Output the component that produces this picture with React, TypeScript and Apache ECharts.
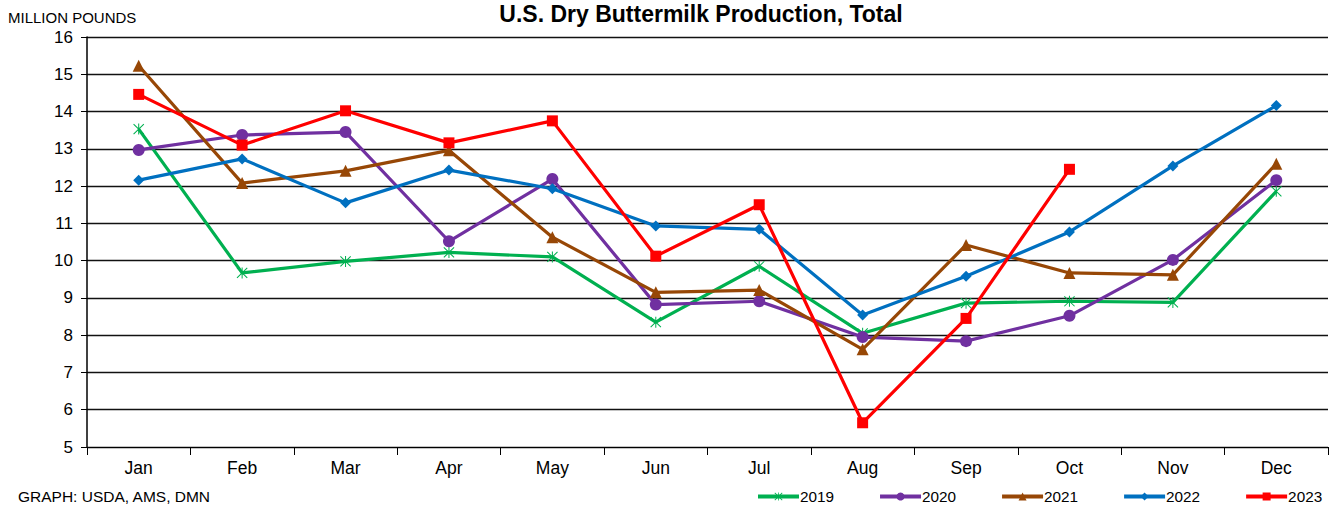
import React, { useEffect, useRef } from "react";
import * as echarts from "echarts";

const months = ["Jan", "Feb", "Mar", "Apr", "May", "Jun", "Jul", "Aug", "Sep", "Oct", "Nov", "Dec"];
const yTicks = { min: 5, max: 16, interval: 1 };

const s2019 = [13.53, 9.67, 9.98, 10.22, 10.1, 8.35, 9.85, 8.05, 8.86, 8.91, 8.88, 11.86];
const s2020 = [12.97, 13.37, 13.45, 10.52, 12.19, 8.82, 8.91, 7.95, 7.84, 8.52, 10.02, 12.16];
const s2021 = [15.23, 12.08, 12.41, 12.96, 10.63, 9.15, 9.21, 7.62, 10.42, 9.67, 9.62, 12.6];
const s2022 = [12.16, 12.73, 11.55, 12.43, 11.93, 10.93, 10.84, 8.54, 9.58, 10.77, 12.54, 14.16];
const s2023 = [14.46, 13.1, 14.02, 13.16, 13.75, 10.12, 11.5, 5.65, 8.45, 12.45, null, null];

const asterisk =
  "path://M9.1 0H10.9V20H9.1Z M0.3 1.6L1.6 0.3L19.7 18.4L18.4 19.7Z M18.4 0.3L19.7 1.6L1.6 19.7L0.3 18.4Z";

export default function App() {
  const ref = useRef<HTMLDivElement>(null);
  useEffect(() => {
    document.body.style.margin = "0";
    const chart = echarts.init(ref.current!, undefined, { renderer: "svg" });
    const font = "'Liberation Sans', Arial, sans-serif";
    const mk = (name: string, data: (number | null)[], color: string, symbol: string, size: number) => ({
      name,
      type: "line",
      data,
      symbol,
      symbolSize: size,
      showSymbol: true,
      lineStyle: { color, width: 3.2 },
      itemStyle: { color },
      z: 3,
    });
    chart.setOption({
      animation: false,
      textStyle: { fontFamily: font },
      grid: { left: 87, right: 4, top: 37, bottom: 61, containLabel: false },
      xAxis: {
        type: "category",
        data: months,
        boundaryGap: true,
        axisLine: { lineStyle: { color: "#000", width: 1 } },
        axisTick: { show: true, length: 8, inside: false, lineStyle: { color: "#000" } },
        axisLabel: { color: "#000", fontSize: 17.5, margin: 12, fontFamily: font },
        splitLine: { show: false },
      },
      yAxis: {
        type: "value",
        min: yTicks.min,
        max: yTicks.max,
        interval: yTicks.interval,
        axisLine: { show: true, lineStyle: { color: "#000", width: 1.5 } },
        axisTick: { show: true, length: 6, lineStyle: { color: "#000" } },
        axisLabel: { color: "#000", fontSize: 17, margin: 14, fontFamily: font },
        splitLine: { show: true, lineStyle: { color: "#111", width: 1.3 } },
      },
      legend: {
        left: 756,
        top: 489,
        width: 576,
        padding: 0,
        itemWidth: 41,
        itemHeight: 10,
        itemGap: 44,
        lineStyle: { width: 4 },
        textStyle: { color: "#000", fontSize: 15.3, fontFamily: font, padding: [0, 0, 0, -4] },
        data: ["2019", "2020", "2021", "2022", "2023"],
      },
      graphic: [
        {
          type: "text",
          left: 8,
          top: 10,
          style: { text: "MILLION POUNDS", fontSize: 15, fill: "#000", fontFamily: font },
        },
        {
          type: "text",
          x: 701,
          y: 14,
          style: {
            text: "U.S. Dry Buttermilk Production, Total",
            fontSize: 23,
            fontWeight: "bold",
            fill: "#000",
            fontFamily: font,
            align: "center",
            verticalAlign: "middle",
          },
        },
        {
          type: "text",
          left: 18,
          top: 488,
          style: { text: "GRAPH: USDA, AMS, DMN", fontSize: 15.5, fill: "#000", fontFamily: font },
        },
      ],
      series: [
        mk("2019", s2019, "#00b050", asterisk, 11),
        mk("2020", s2020, "#7030a0", "circle", 12),
        mk("2021", s2021, "#974706", "triangle", 12),
        mk("2022", s2022, "#0070c0", "diamond", 11),
        mk("2023", s2023, "#ff0000", "rect", 11),
      ],
    });
    return () => chart.dispose();
  }, []);
  return <div ref={ref} style={{ width: 1332, height: 508 }} />;
}
